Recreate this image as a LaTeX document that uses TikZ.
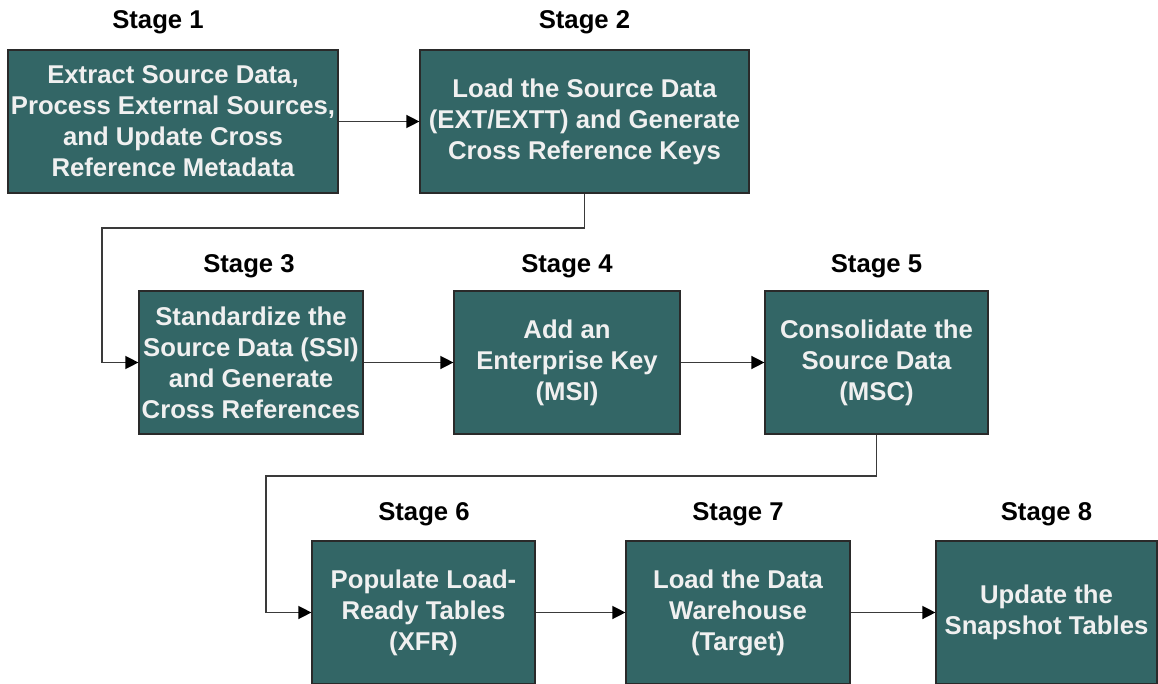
\documentclass[tikz,border=0pt]{standalone}
\usepackage{fontspec}
\setmainfont{Liberation Sans}
\usetikzlibrary{arrows.meta}
\definecolor{teal}{HTML}{336666}
\definecolor{edge}{HTML}{2A2A2A}
\definecolor{linec}{HTML}{3A3A3A}
\begin{document}
\begin{tikzpicture}[x=1pt,y=-1pt,
  stagebox/.style={draw=edge, line width=1.2pt, fill=teal, text=white!94!black,
    font=\bfseries\fontsize{25.7}{31}\selectfont, align=center, inner sep=0pt,
    minimum height=143pt},
  stagelbl/.style={text=black, font=\bfseries\fontsize{25.7}{31}\selectfont, inner sep=0pt},
  conn/.style={draw=linec, line width=1.4pt, -{Triangle[length=13pt,width=13pt,color=black]}}]
\useasboundingbox (0,0) rectangle (1158,684);
% boxes
\node[stagebox, minimum width=330pt] (b1) at (173,121.5) {Extract Source Data,\\Process External Sources,\\and Update Cross\\Reference Metadata};
\node[stagebox, minimum width=329pt] (b2) at (584.5,121.5) {Load the Source Data\\(EXT/EXTT) and Generate\\Cross Reference Keys};
\node[stagebox, minimum width=224pt] (b3) at (251,362.5) {Standardize the\\Source Data (SSI)\\and Generate\\Cross References};
\node[stagebox, minimum width=226pt] (b4) at (567,362.5) {Add an\\Enterprise Key\\(MSI)};
\node[stagebox, minimum width=223pt] (b5) at (876.5,362.5) {Consolidate the\\Source Data\\(MSC)};
\node[stagebox, minimum width=223pt] (b6) at (423.5,612.5) {Populate Load-\\Ready Tables\\(XFR)};
\node[stagebox, minimum width=224pt] (b7) at (738,612.5) {Load the Data\\Warehouse\\(Target)};
\node[stagebox, minimum width=221pt] (b8) at (1046.5,612.5) {Update the\\Snapshot Tables};
% labels
\node[stagelbl] (s1) at (158,22) {Stage 1};
\node[stagelbl] (s2) at (584.5,22) {Stage 2};
\node[stagelbl] (s3) at (249,266) {Stage 3};
\node[stagelbl] (s4) at (567,266) {Stage 4};
\node[stagelbl] (s5) at (876.5,266) {Stage 5};
\node[stagelbl] (s6) at (424,514) {Stage 6};
\node[stagelbl] (s7) at (738,514) {Stage 7};
\node[stagelbl] (s8) at (1046.5,514) {Stage 8};
% connectors
\coordinate (k1) at (102,228);
\coordinate (k2) at (266,476);
\draw[conn] (b1.east) -- (b2.west);
\draw[conn] (b2.south) |- (k1) |- (b3.west);
\draw[conn] (b3.east) -- (b4.west);
\draw[conn] (b4.east) -- (b5.west);
\draw[conn] (b5.south) |- (k2) |- (b6.west);
\draw[conn] (b6.east) -- (b7.west);
\draw[conn] (b7.east) -- (b8.west);
\end{tikzpicture}
\end{document}
